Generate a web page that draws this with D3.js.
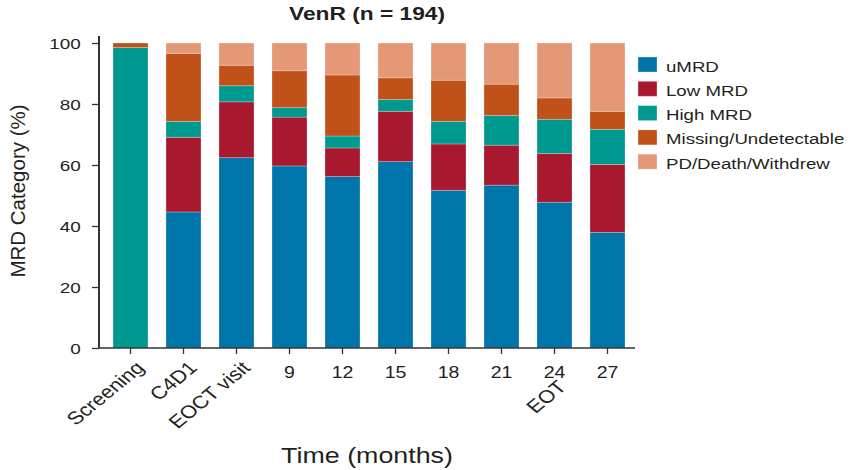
<!DOCTYPE html>
<html>
<head>
<meta charset="utf-8">
<script src="https://cdn.jsdelivr.net/npm/d3@7"></script>
<style>
  html, body { margin: 0; padding: 0; background: #fff; }
  #chart { width: 852px; height: 470px; }
  text { font-family: "Liberation Sans", Arial, sans-serif; fill: #231f20; }
</style>
</head>
<body>
<div id="chart"></div>
<script>
// values (% of patients at each visit)
const timepoints = ["Screening", "C4D1", "EOCT visit", "9", "12", "15", "18", "21", "24", "27"];
const rotatedTicks = ["Screening", "C4D1", "EOCT visit"];
const subLabels = ["", "", "", "", "", "", "", "", "EOT", ""];

const categories = ["uMRD", "Low MRD", "High MRD", "Missing/Undetectable", "PD/Death/Withdrew"];
const colors = ["#0075a9", "#a8182f", "#00998f", "#c05219", "#e49876"];

const uMRD = [0, 44.6, 62.4, 59.7, 56.2, 61.1, 51.7, 53.4, 47.8, 37.9];
const lowMRD = [0, 24.5, 18.3, 16.0, 9.4, 16.5, 15.2, 13.1, 16.0, 22.3];
const highMRD = [98.5, 5.2, 5.3, 3.1, 3.9, 3.9, 7.4, 9.7, 11.2, 11.5];
const missing = [1.5, 22.3, 6.7, 12.1, 20.0, 7.1, 13.5, 10.3, 7.0, 5.9];
const pdDeath = [0, 3.4, 7.3, 9.1, 10.5, 11.4, 12.2, 13.5, 18.0, 22.4];

const yTicks = [0, 20, 40, 60, 80, 100];

function renderMrdChart(containerId) {
  const container = d3.select(`#${containerId}`);
  container.selectAll("*").remove();

  const width = 852, height = 470;
  const margin = { top: 43, right: 217, bottom: 122, left: 99 };
  const innerWidth = width - margin.left - margin.right;
  const innerHeight = height - margin.top - margin.bottom;
  const SX = 1.22; // the source figure is stretched sideways

  const svg = container.append("svg")
    .attr("width", width)
    .attr("height", height);

  const g = svg.append("g")
    .attr("transform", `translate(${margin.left},${margin.top})`);

  const series = [uMRD, lowMRD, highMRD, missing, pdDeath];
  const table = timepoints.map((t, i) => {
    const row = { time: t };
    categories.forEach((c, k) => { row[c] = series[k][i]; });
    return row;
  });

  const stack = d3.stack().keys(categories)(table);

  const x = d3.scaleBand()
    .domain(timepoints)
    .range([5, innerWidth - 1])
    .paddingInner(0.34)
    .paddingOuter(0.17);

  const y = d3.scaleLinear()
    .domain([0, 100])
    .range([innerHeight, 0]);

  const color = d3.scaleOrdinal().domain(categories).range(colors);

  g.selectAll("g.layer")
    .data(stack)
    .join("g")
    .attr("class", "layer")
    .attr("fill", d => color(d.key))
    .selectAll("rect")
    .data(d => d)
    .join("rect")
    .attr("x", d => x(d.data.time))
    .attr("y", d => y(d[1]))
    .attr("width", x.bandwidth())
    .attr("height", d => Math.max(0, y(d[0]) - y(d[1])))
    .attr("stroke", "#fff")
    .attr("stroke-opacity", 0.3)
    .attr("stroke-width", 0.8);

  // y axis
  const yAxis = g.append("g")
    .call(d3.axisLeft(y).tickValues(yTicks).tickSize(7).tickSizeOuter(0).tickPadding(0));
  yAxis.select(".domain").remove();
  yAxis.selectAll(".tick line").attr("stroke", "#333").attr("stroke-width", 1.3);
  yAxis.selectAll(".tick text")
    .attr("x", -15)
    .attr("dy", "0.34em")
    .attr("transform", `scale(${SX},1)`)
    .style("font-size", "15.5px");
  g.append("line")
    .attr("x1", 0).attr("x2", 0)
    .attr("y1", -7).attr("y2", innerHeight)
    .attr("stroke", "#333").attr("stroke-width", 2);

  // x axis
  const xAxis = g.append("g")
    .attr("transform", `translate(0,${innerHeight})`)
    .call(d3.axisBottom(x).tickSize(6).tickSizeOuter(0));
  xAxis.select(".domain").remove();
  xAxis.selectAll(".tick line").attr("stroke", "#333").attr("stroke-width", 1.3);
  xAxis.selectAll(".tick text").each(function (d) {
    const t = d3.select(this);
    if (rotatedTicks.includes(d)) {
      t.attr("y", null).attr("dy", null)
        .attr("text-anchor", "end")
        .style("font-size", "18px")
        .attr("transform", `translate(15,21) scale(${SX},1) rotate(-45)`);
    } else {
      t.attr("y", 0).attr("dy", null)
        .style("font-size", "16px")
        .attr("transform", `translate(0,29.7) scale(${SX},1)`);
    }
  });
  xAxis.selectAll(".tick").append("text")
    .text((d, i) => subLabels[i])
    .attr("fill", "#231f20")
    .attr("text-anchor", "end")
    .style("font-size", "18px")
    .attr("transform", `translate(13,40) scale(${SX},1) rotate(-45)`);
  g.append("line")
    .attr("x1", 0).attr("x2", innerWidth)
    .attr("y1", innerHeight).attr("y2", innerHeight)
    .attr("stroke", "#333").attr("stroke-width", 1.5);

  // axis titles
  g.append("text")
    .attr("transform", `translate(${367 - margin.left},${463 - margin.top}) scale(${SX},1)`)
    .attr("text-anchor", "middle")
    .style("font-size", "22px")
    .text("Time (months)");

  g.append("text")
    .attr("transform", `translate(${25 - margin.left},${191 - margin.top}) rotate(-90)`)
    .attr("text-anchor", "middle")
    .style("font-size", "20.5px")
    .text("MRD Category (%)");

  // title
  svg.append("text")
    .attr("transform", `translate(367,20) scale(1.3,1)`)
    .attr("text-anchor", "middle")
    .style("font-size", "17.5px")
    .style("font-weight", "bold")
    .text("VenR (n = 194)");

  // legend
  const legend = svg.append("g")
    .attr("transform", "translate(638,57)");
  const rows = legend.selectAll("g")
    .data(categories)
    .join("g")
    .attr("transform", (d, i) => `translate(0,${i * 24.3})`);
  rows.append("rect")
    .attr("width", 19)
    .attr("height", 15)
    .attr("fill", d => color(d))
    .attr("stroke", "#fff")
    .attr("stroke-opacity", 0.3);
  rows.append("text")
    .attr("transform", `translate(28,14.5) scale(${SX},1)`)
    .style("font-size", "15.3px")
    .text(d => d);
}

renderMrdChart("chart");
</script>
</body>
</html>
